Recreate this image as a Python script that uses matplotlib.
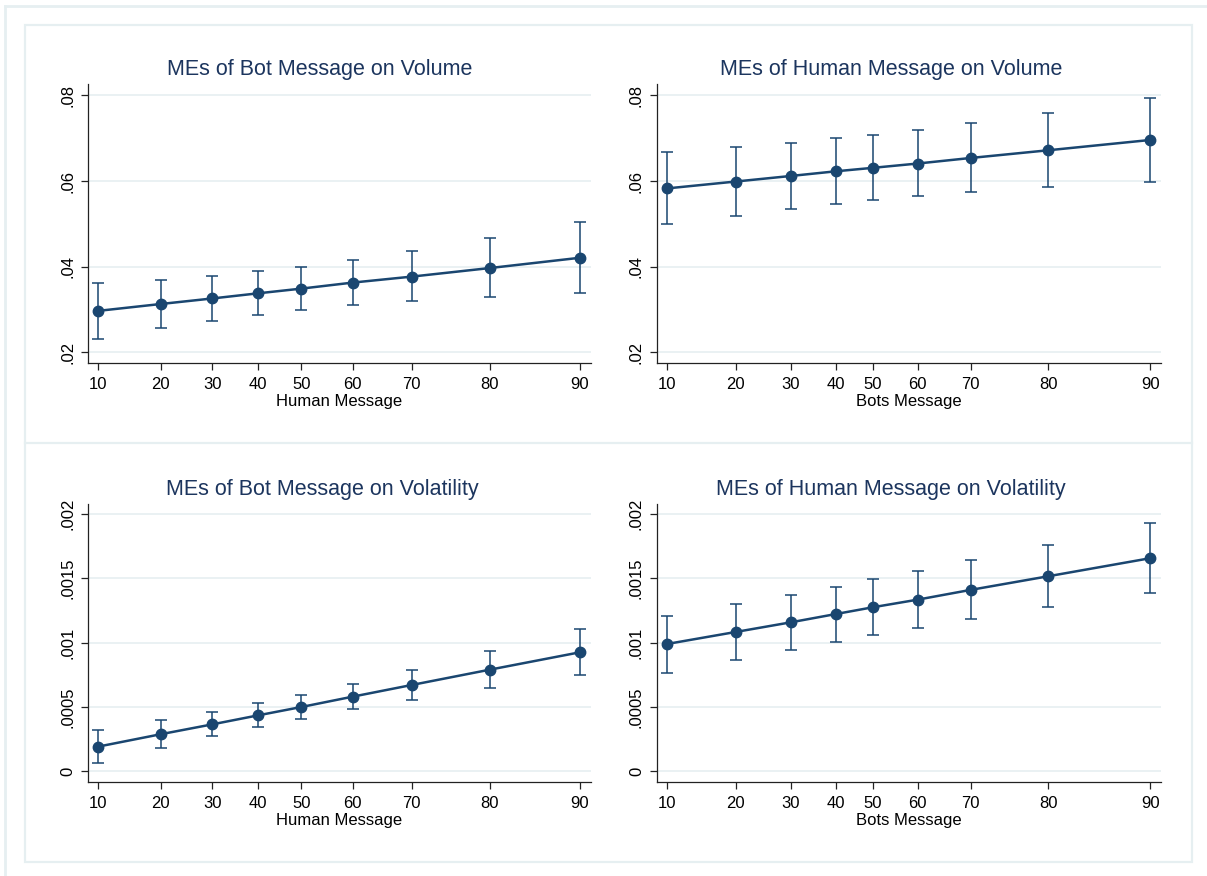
import numpy as np
import matplotlib
matplotlib.use("Agg")
import matplotlib.pyplot as plt
from matplotlib.patches import Rectangle
from matplotlib.lines import Line2D

plt.rcParams['font.family'] = ['Liberation Sans', 'DejaVu Sans']

# percentiles shown on the x axis
pct_labels = [10, 20, 30, 40, 50, 60, 70, 80, 90]

# message counts observed at each percentile (x positions of the points)
human_at_pct = [3.0, 5.59, 7.74, 9.64, 11.44, 13.56, 16.02, 19.26, 23.0]
bots_at_pct = [2.0, 3.70, 5.07, 6.20, 7.11, 8.22, 9.54, 11.47, 14.0]

# MEs of bot message on volume (by human message)
bot_vol = [0.0297, 0.0313, 0.0326, 0.0338, 0.0349, 0.0363, 0.0377, 0.0397, 0.0421]
bot_vol_lo = [0.0232, 0.0256, 0.0274, 0.0288, 0.0300, 0.0310, 0.0320, 0.0330, 0.0338]
bot_vol_hi = [0.0362, 0.0370, 0.0379, 0.0389, 0.0400, 0.0415, 0.0436, 0.0466, 0.0504]

# MEs of human message on volume (by bots message)
hum_vol = [0.0583, 0.0599, 0.0612, 0.0623, 0.0631, 0.0641, 0.0654, 0.0672, 0.0696]
hum_vol_lo = [0.0499, 0.0519, 0.0535, 0.0546, 0.0556, 0.0565, 0.0574, 0.0587, 0.0599]
hum_vol_hi = [0.0668, 0.0679, 0.0689, 0.0700, 0.0707, 0.0720, 0.0735, 0.0760, 0.0793]

# MEs of bot message on volatility (by human message)
bot_volat = [0.000192, 0.000288, 0.000365, 0.000435, 0.000500, 0.000580, 0.000671, 0.000790, 0.000925]
bot_volat_lo = [0.000065, 0.000179, 0.000272, 0.000347, 0.000409, 0.000482, 0.000557, 0.000645, 0.000746]
bot_volat_hi = [0.000321, 0.000396, 0.000464, 0.000529, 0.000593, 0.000681, 0.000788, 0.000935, 0.001106]

# MEs of human message on volatility (by bots message)
hum_volat = [0.000990, 0.001083, 0.001158, 0.001223, 0.001275, 0.001334, 0.001410, 0.001516, 0.001656]
hum_volat_lo = [0.000767, 0.000868, 0.000946, 0.001008, 0.001057, 0.001117, 0.001181, 0.001275, 0.001389]
hum_volat_hi = [0.001210, 0.001298, 0.001373, 0.001435, 0.001492, 0.001555, 0.001640, 0.001757, 0.001928]

vol_ticks = [0.02, 0.04, 0.06, 0.08]
vol_ticklabels = ['.02', '.04', '.06', '.08']
volat_ticks = [0, 0.0005, 0.001, 0.0015, 0.002]
volat_ticklabels = ['0', '.0005', '.001', '.0015', '.002']

NAVY = '#1a4670'
TITLE = '#1c355e'
FRAME = '#e6eff1'
GRID = '#eaf1f3'

W, H = 1207, 876
fig = plt.figure(figsize=(W / 100, H / 100), dpi=100)


def px_box(x0, y0, x1, y1):
    return [x0 / W, 1 - y1 / H, (x1 - x0) / W, (y1 - y0) / H]


# background frames
fig.add_artist(Line2D([5 / W, 1], [1 - 6 / H, 1 - 6 / H], color=FRAME, lw=2))
fig.add_artist(Line2D([5 / W, 5 / W], [0, 1 - 6 / H], color=FRAME, lw=2))
fig.add_artist(Rectangle((25 / W, 1 - 862 / H), (1192 - 25) / W, (862 - 25) / H,
                         fill=False, ec=FRAME, lw=1.6, transform=fig.transFigure))
fig.add_artist(Line2D([25 / W, 1192 / W], [1 - 443 / H, 1 - 443 / H], color=FRAME, lw=1.6))

panels = [
    (px_box(87.5, 84.3, 591, 362.7), human_at_pct, (2.556, 23.46),
     bot_vol, bot_vol_lo, bot_vol_hi, vol_ticks, vol_ticklabels, (0.0176, 0.0826),
     'MEs of Bot Message on Volume', 320, 70, 'Human Message'),
    (px_box(656.5, 84.3, 1161, 362.7), bots_at_pct, (1.729, 14.27),
     hum_vol, hum_vol_lo, hum_vol_hi, vol_ticks, vol_ticklabels, (0.0176, 0.0826),
     'MEs of Human Message on Volume', 891, 70, 'Bots Message'),
    (px_box(87.5, 504.3, 591, 782), human_at_pct, (2.556, 23.46),
     bot_volat, bot_volat_lo, bot_volat_hi, volat_ticks, volat_ticklabels, (-0.000083, 0.002075),
     'MEs of Bot Message on Volatility', 322, 489, 'Human Message'),
    (px_box(656.5, 504.3, 1161, 782), bots_at_pct, (1.729, 14.27),
     hum_volat, hum_volat_lo, hum_volat_hi, volat_ticks, volat_ticklabels, (-0.000083, 0.002075),
     'MEs of Human Message on Volatility', 891, 489, 'Bots Message'),
]

for box, xs, xlim, ys, lo, hi, yt, ytl, ylim, title, tx, ty, xlab in panels:
    ax = fig.add_axes(box)
    ys = np.array(ys)
    err = [ys - np.array(lo), np.array(hi) - ys]
    ax.errorbar(xs, ys, yerr=err, fmt='none', ecolor=NAVY, elinewidth=1.1,
                capsize=4, capthick=1.1, zorder=3)
    ax.plot(xs, ys, color=NAVY, lw=1.8, marker='o', markersize=7.5, zorder=4)
    ax.set_xlim(xlim)
    ax.set_ylim(ylim)
    ax.set_xticks(xs)
    ax.set_xticklabels([str(p) for p in pct_labels], fontsize=12)
    ax.set_yticks(yt)
    ax.set_yticklabels(ytl, fontsize=12, rotation=90, va='center')
    ax.tick_params(axis='both', length=5, width=0.9, color='#222222', pad=4)
    ax.tick_params(axis='x', pad=5)
    ax.grid(axis='y', color=GRID, lw=1.4)
    ax.set_axisbelow(True)
    for s in ['top', 'right']:
        ax.spines[s].set_visible(False)
    for s in ['left', 'bottom']:
        ax.spines[s].set_color('#222222')
        ax.spines[s].set_linewidth(0.9)
    ax.set_xlabel(xlab, fontsize=12, labelpad=1.5)
    fig.text(tx / W, 1 - ty / H, title, fontsize=15.5, color=TITLE,
             ha='center', va='center')

fig.savefig('out.png', dpi=100)
